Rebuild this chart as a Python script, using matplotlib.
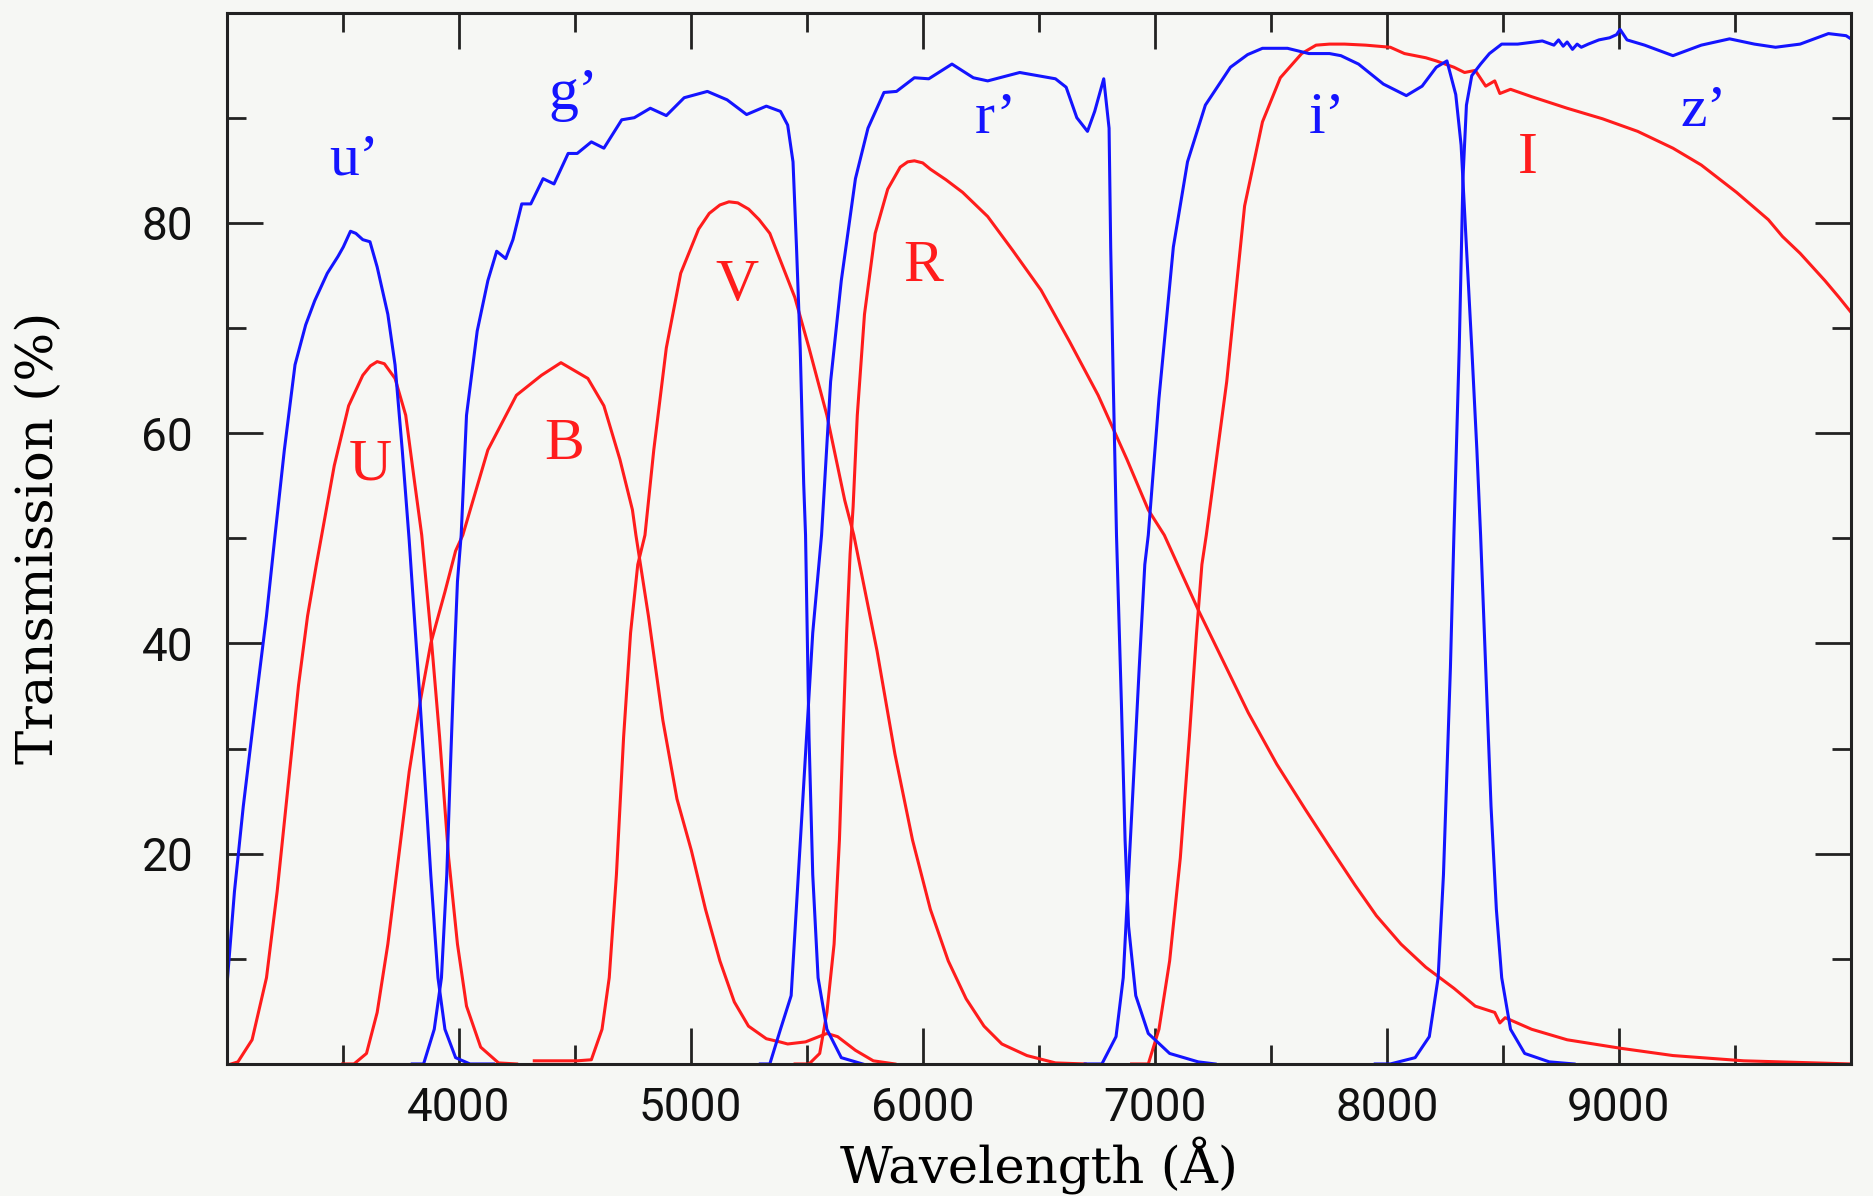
import numpy as np
import matplotlib.pyplot as plt
from matplotlib.ticker import FixedLocator

# wavelength (A) / transmission (%)
u_wl = [3000, 3034, 3072, 3126, 3172, 3210, 3249, 3295, 3341, 3380, 3434, 3480, 3503, 3534, 3557, 3587,
        3618, 3649, 3695, 3726, 3757, 3787, 3834, 3880, 3911, 3941, 3987, 4049, 4150]
u_tr = [7, 16.4, 24.5, 34.4, 42.6, 50.5, 58.4, 66.5, 70.3, 72.6, 75.2, 76.8, 77.7, 79.2, 79.0, 78.4,
        78.2, 75.8, 71.3, 66.5, 58.4, 49.8, 34.4, 18.0, 8.2, 3.3, 0.6, 0.0, 0.0]

g_wl = [3800, 3849, 3895, 3926, 3949, 3964, 3980, 3995, 4011, 4034, 4080, 4126, 4164, 4203, 4234, 4272,
        4311, 4364, 4411, 4472, 4511, 4572, 4626, 4703, 4757, 4826, 4895, 4972, 5072, 5157, 5241, 5326,
        5387, 5418, 5441, 5456, 5472, 5487, 5495, 5510, 5526, 5549, 5587, 5649, 5741]
g_tr = [0, 0, 3.3, 8.2, 18.0, 27.8, 37.7, 45.9, 50.3, 61.7, 69.7, 74.5, 77.3, 76.6, 78.4, 81.8,
        81.8, 84.2, 83.7, 86.6, 86.6, 87.7, 87.1, 89.8, 90.0, 90.9, 90.2, 91.9, 92.5, 91.7, 90.3, 91.1,
        90.6, 89.3, 85.8, 77.7, 68.1, 55.2, 50.3, 31.1, 18.0, 8.2, 3.3, 0.6, 0]

r_wl = [5300, 5341, 5387, 5433, 5464, 5495, 5526, 5564, 5603, 5649, 5710, 5764, 5833, 5887, 5964, 6026,
        6126, 6218, 6280, 6418, 6572, 6618, 6664, 6710, 6741, 6780, 6803, 6810, 6821, 6835, 6856, 6872,
        6887, 6918, 6972, 7064, 7187, 7260]
r_tr = [0, 0, 3.3, 6.5, 18.0, 29.5, 41.0, 50.3, 64.9, 74.5, 84.2, 89.0, 92.4, 92.5, 93.8, 93.7,
        95.1, 93.8, 93.5, 94.3, 93.7, 92.9, 90.0, 88.7, 90.6, 93.7, 89.0, 77.7, 64.9, 50.3, 34.4, 21.3,
        13.1, 6.5, 2.9, 1.0, 0.2, 0]

i_wl = [6700, 6772, 6833, 6864, 6887, 6910, 6933, 6957, 6972, 7018, 7080, 7141, 7218, 7326, 7400, 7464,
        7572, 7664, 7753, 7802, 7878, 7985, 8084, 8152, 8213, 8259, 8297, 8320, 8343, 8366, 8388, 8404,
        8426, 8449, 8472, 8495, 8533, 8594, 8700, 8807]
i_tr = [0, 0, 2.6, 8.2, 18.0, 27.8, 37.7, 47.5, 50.3, 63.3, 77.7, 85.8, 91.2, 94.8, 96.0, 96.6,
        96.6, 96.1, 96.1, 95.9, 95.1, 93.2, 92.1, 93.0, 94.8, 95.4, 92.2, 87.4, 77.7, 68.1, 58.4, 50.3,
        37.7, 24.5, 14.7, 8.2, 3.3, 1.0, 0.2, 0]

z_wl = [7950, 8015, 8122, 8183, 8221, 8244, 8259, 8274, 8289, 8312, 8328, 8343, 8366, 8404, 8442, 8495,
        8564, 8670, 8720, 8740, 8760, 8777, 8800, 8820, 8838, 8868, 8914, 8960, 8990, 9005, 9035, 9111,
        9233, 9355, 9477, 9584, 9675, 9781, 9903, 9979, 10000]
z_tr = [0, 0, 0.6, 2.6, 8.2, 18.0, 27.8, 37.7, 50.3, 68.1, 84.2, 91.2, 94.0, 95.1, 96.1, 97.0,
        97.0, 97.3, 96.9, 97.4, 96.8, 97.2, 96.5, 97.0, 96.7, 97.0, 97.4, 97.6, 97.9, 98.4, 97.4, 96.9,
        95.9, 96.9, 97.5, 97.0, 96.7, 97.0, 98.0, 97.8, 97.5]

U_wl = [3020, 3049, 3110, 3172, 3218, 3264, 3310, 3349, 3387, 3410, 3464, 3526, 3587, 3620, 3649, 3680,
        3726, 3772, 3811, 3841, 3880, 3918, 3957, 3995, 4034, 4095, 4172, 4250]
U_tr = [0, 0.2, 2.3, 8.2, 16.4, 26.2, 36.0, 42.6, 47.5, 50.3, 56.9, 62.6, 65.5, 66.4, 66.8, 66.6,
        65.2, 61.7, 55.2, 50.3, 41.0, 31.1, 19.6, 11.4, 5.5, 1.6, 0.1, 0]

B_wl = [3500, 3549, 3603, 3649, 3695, 3741, 3787, 3834, 3880, 3941, 3987, 4018, 4126, 4249, 4357, 4441,
        4557, 4626, 4695, 4749, 4764, 4818, 4880, 4941, 5003, 5064, 5126, 5188, 5249, 5326, 5384, 5418,
        5495, 5587, 5633, 5710, 5787, 5880]
B_tr = [0, 0, 1.0, 4.9, 11.4, 19.6, 27.8, 34.4, 40.0, 44.9, 48.8, 50.3, 58.4, 63.6, 65.5, 66.7,
        65.2, 62.6, 57.5, 52.7, 50.3, 42.6, 32.7, 25.2, 20.3, 14.7, 9.8, 5.9, 3.6, 2.4, 2.1, 1.9,
        2.1, 2.9, 2.6, 1.3, 0.3, 0]

V_wl = [4326, 4511, 4572, 4618, 4649, 4680, 4711, 4741, 4772, 4803, 4841, 4895, 4957, 5034, 5080, 5126,
        5165, 5203, 5250, 5295, 5341, 5387, 5449, 5510, 5587, 5664, 5703, 5803, 5880, 5956, 6033, 6110,
        6187, 6264, 6341, 6449, 6572, 6700]
V_tr = [0.3, 0.3, 0.4, 3.3, 8.2, 18.0, 31.1, 41.0, 47.5, 50.3, 58.4, 68.1, 75.2, 79.4, 80.9, 81.7,
        82.0, 81.9, 81.3, 80.3, 79.0, 76.4, 72.9, 68.1, 61.7, 53.6, 50.3, 39.3, 29.5, 21.3, 14.7, 9.8,
        6.2, 3.6, 1.9, 0.8, 0.1, 0]

R_wl = [5450, 5510, 5556, 5587, 5618, 5641, 5656, 5672, 5687, 5700, 5718, 5749, 5795, 5849, 5903, 5935,
        5964, 6000, 6033, 6100, 6172, 6280, 6387, 6510, 6633, 6756, 6880, 6972, 7041, 7187, 7403, 7526,
        7649, 7755, 7863, 7955, 8061, 8168, 8289, 8381, 8465, 8487, 8510, 8624, 8777, 9005, 9233, 9538,
        10000]
R_tr = [0, 0, 1.0, 4.9, 11.4, 21.3, 31.1, 41.0, 48.5, 53.0, 61.7, 71.3, 79.0, 83.2, 85.3, 85.8,
        85.9, 85.7, 85.1, 84.1, 82.9, 80.6, 77.4, 73.6, 68.7, 63.6, 57.5, 52.7, 50.3, 43.2, 33.4, 28.5,
        24.2, 20.6, 17.0, 14.1, 11.4, 9.2, 7.2, 5.5, 4.9, 3.9, 4.4, 3.3, 2.3, 1.5, 0.8, 0.3,
        0]

I_wl = [6900, 6972, 7018, 7064, 7110, 7149, 7180, 7203, 7222, 7310, 7387, 7464, 7541, 7633, 7695, 7753,
        7818, 7909, 8015, 8076, 8168, 8213, 8289, 8335, 8381, 8426, 8465, 8487, 8533, 8624, 8777, 8929,
        9081, 9233, 9355, 9507, 9644, 9705, 9781, 9888, 9949, 10000]
I_tr = [0, 0, 3.3, 9.8, 19.6, 31.1, 41.0, 47.5, 50.3, 64.9, 81.6, 89.6, 93.8, 96.1, 96.9, 97.0,
        97.0, 96.9, 96.7, 96.1, 95.7, 95.4, 94.8, 94.3, 94.5, 93.0, 93.5, 92.3, 92.7, 92.0, 90.9, 89.9,
        88.7, 87.1, 85.5, 82.9, 80.3, 78.7, 77.1, 74.5, 72.9, 71.5]

# filter labels: text, wavelength, transmission
sdss_labels = [("u\u2019", 3552, 85.9), ("g\u2019", 4495, 92.2), ("r\u2019", 6315, 89.9),
               ("i\u2019", 7742, 89.9), ("z\u2019", 9366, 90.5)]
johnson_labels = [("U", 3619, 56.9), ("B", 4454, 58.9), ("V", 5201, 74.0),
                  ("R", 6000, 75.8), ("I", 8608, 86.1)]

blue = '#1414ff'
red = '#ff1c1c'
bg = '#f6f7f4'

fig = plt.figure(figsize=(18.74, 11.96), dpi=100, facecolor=bg)
ax = fig.add_axes([0.1209, 0.1104, 0.8668, 0.8791])
ax.set_facecolor(bg)

for wl, tr in [(U_wl, U_tr), (B_wl, B_tr), (V_wl, V_tr), (R_wl, R_tr), (I_wl, I_tr)]:
    ax.plot(wl, tr, color=red, lw=2.2)
for wl, tr in [(u_wl, u_tr), (g_wl, g_tr), (r_wl, r_tr), (i_wl, i_tr), (z_wl, z_tr)]:
    ax.plot(wl, tr, color=blue, lw=2.2)

for txt, x, y in sdss_labels:
    ax.text(x, y, txt, color=blue, fontsize=43, family='Liberation Serif', ha='center', va='center')
for txt, x, y in johnson_labels:
    ax.text(x, y, txt, color=red, fontsize=43, family='Liberation Serif', ha='center', va='center')

ax.set_xlim(3000, 10000)
ax.set_ylim(0, 100)
ax.xaxis.set_major_locator(FixedLocator([4000, 5000, 6000, 7000, 8000, 9000]))
ax.xaxis.set_minor_locator(FixedLocator([3500, 4500, 5500, 6500, 7500, 8500, 9500]))
ax.yaxis.set_major_locator(FixedLocator([20, 40, 60, 80]))
ax.yaxis.set_minor_locator(FixedLocator([10, 30, 50, 70, 90]))

ax.tick_params(which='both', direction='in', top=True, right=True, colors='#222222', width=2.0)
ax.tick_params(which='major', length=26)
ax.tick_params(which='minor', length=14)
ax.tick_params(axis='x', which='major', pad=16)
ax.tick_params(axis='y', which='major', pad=24)
for lab in ax.get_xticklabels() + ax.get_yticklabels():
    lab.set_family('Roboto')
    lab.set_fontsize(33)
    lab.set_color('#111111')

for s in ax.spines.values():
    s.set_linewidth(2.2)
    s.set_color('#222222')

ax.set_xlabel("Wavelength (\u00c5)", fontsize=37, family='DejaVu Serif', va='center')
ax.set_ylabel("Transmission (%)", fontsize=37, family='DejaVu Serif', va='center')
ax.xaxis.set_label_coords(0.5, -0.096)
ax.yaxis.set_label_coords(-0.1154, 0.5)

plt.savefig('out.png', dpi=100, facecolor=fig.get_facecolor())
